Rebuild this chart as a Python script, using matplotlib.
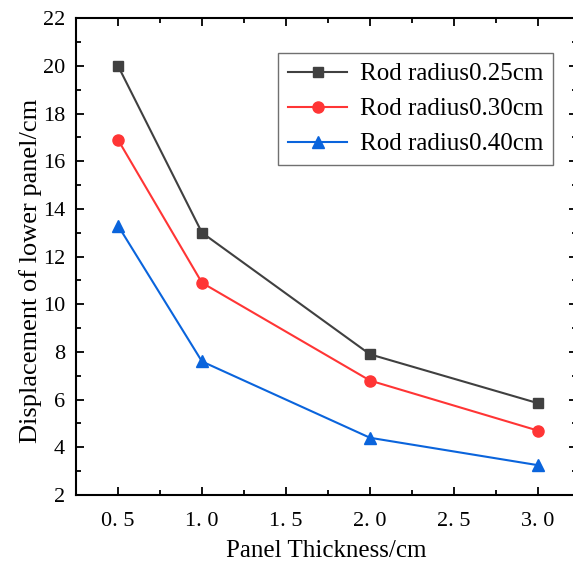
import matplotlib
matplotlib.use("Agg")
import matplotlib.pyplot as plt
from matplotlib.ticker import MultipleLocator

plt.rcParams['font.family'] = ['Liberation Serif', 'DejaVu Serif']

thickness = [0.5, 1.0, 2.0, 3.0]
r025 = [20.0, 13.0, 7.9, 5.85]
r030 = [16.9, 10.9, 6.8, 4.7]
r040 = [13.3, 7.6, 4.4, 3.25]
labels = ['Rod radius0.25cm', 'Rod radius0.30cm', 'Rod radius0.40cm']
xticks = [0.5, 1.0, 1.5, 2.0, 2.5, 3.0]
xticklabels = ['0. 5', '1. 0', '1. 5', '2. 0', '2. 5', '3. 0']

fig = plt.figure(figsize=(5.73, 5.63), dpi=100)
# right edge sits just past the image border, as in the original (cropped) figure
ax = fig.add_axes([0.1326, 0.1208, 0.8743, 0.847])

ax.plot(thickness, r025, '-s', color='#404040', lw=1.5, ms=7.5, label=labels[0])
ax.plot(thickness, r030, '-o', color='#ff3535', lw=1.5, ms=8, label=labels[1])
ax.plot(thickness, r040, '-^', color='#0a64dc', lw=1.5, ms=9, label=labels[2])

ax.set_xlim(0.25, 3.232)
ax.set_ylim(2, 22)
ax.set_xticks(xticks)
ax.set_xticklabels(xticklabels)
ax.set_yticks(range(2, 23, 2))
ax.xaxis.set_minor_locator(MultipleLocator(0.25))
ax.yaxis.set_minor_locator(MultipleLocator(1))
ax.tick_params(which='both', direction='in', top=True, right=True, labelsize=16, width=1.3)
ax.tick_params(which='major', length=6)
ax.tick_params(which='minor', length=3.5)
ax.tick_params(axis='x', pad=12)
ax.tick_params(axis='y', pad=8)
ax.spines['right'].set_visible(False)
for s in ax.spines.values():
    s.set_linewidth(1.5)

ax.set_xlabel('Panel Thickness/cm', fontsize=18, labelpad=7)
ax.set_ylabel('Displacement of lower panel/cm', fontsize=19)
ax.yaxis.set_label_coords(-0.068, 0.47)

leg = ax.legend(loc='upper right', bbox_to_anchor=(0.965, 0.906), bbox_transform=fig.transFigure,
                fontsize=18, fancybox=False, framealpha=1, edgecolor='#707070',
                handlelength=2.35, borderpad=0.4, labelspacing=0.5, handletextpad=0.5,
                borderaxespad=0)
leg.get_frame().set_linewidth(1.0)

plt.savefig('out.png', dpi=100)
